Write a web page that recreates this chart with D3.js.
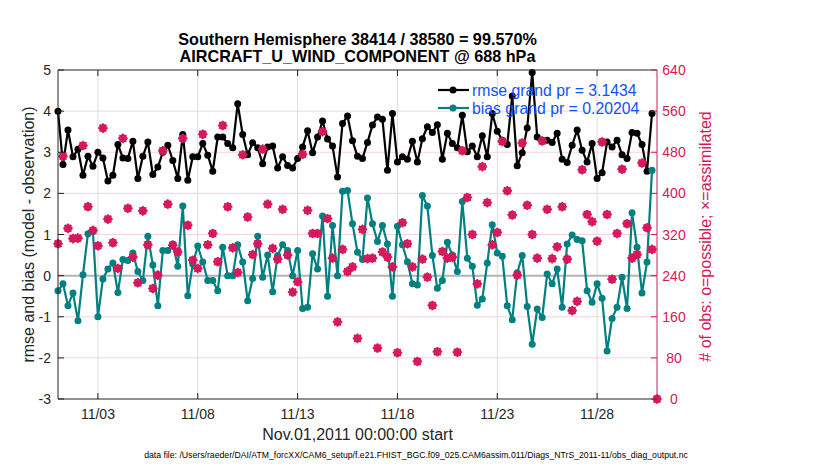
<!DOCTYPE html>
<html>
<head>
<meta charset="utf-8">
<script src="https://cdn.jsdelivr.net/npm/d3@7"></script>
<style>
  body { margin: 0; background: #fff; }
  svg text { font-family: "Liberation Sans", Arial, Helvetica, sans-serif; }
</style>
</head>
<body>
<svg id="chart" width="830" height="470"></svg>
<script>
// Values, one per 6-hour bin from Nov.01 00Z

const rmse = [
  4.00, 2.70, 3.54, 2.89, 3.07, 2.44, 2.90, 2.66, 3.00, 2.86, 2.30, 2.44, 3.19, 2.86, 2.85, 3.27, 2.36, 2.90, 3.25, 2.46,
  2.64, 3.00, 3.17, 2.80, 2.36, 3.43, 2.32, 2.89, 2.89, 3.21, 2.93, 2.54, 3.37, 3.37, 3.21, 3.11, 4.18, 3.43, 2.94, 3.23,
  3.11, 2.72, 3.13, 3.15, 2.62, 2.89, 2.68, 2.62, 2.85, 3.13, 3.52, 2.99, 3.37, 3.76, 3.32, 3.15, 2.40, 3.70, 3.88, 3.28,
  2.90, 2.85, 3.24, 3.66, 3.86, 3.80, 2.56, 3.94, 2.76, 2.89, 2.83, 3.27, 2.76, 3.33, 3.62, 3.48, 3.67, 2.83, 3.46, 3.21,
  3.11, 3.90, 3.01, 3.15, 2.89, 3.40, 2.89, 3.94, 3.51, 3.29, 3.19, 4.37, 2.67, 2.99, 3.59, 4.94, 3.37, 3.29, 3.29, 3.24,
  3.46, 2.83, 2.75, 3.17, 3.54, 3.05, 2.76, 3.21, 2.36, 2.50, 3.25, 3.13, 3.29, 2.94, 2.85, 3.48, 3.46, 3.19, 2.54, 3.94
];

const bias = [
  -0.37, -0.20, -0.73, -0.42, -1.10, 0.02, 1.02, 1.07, -1.00, -0.08, 0.16, 0.31, -0.41, 0.39, 0.37, 0.55, 0.10, -0.12, 0.96, 0.26,
  -0.73, 0.61, 0.61, 0.77, 0.23, 1.69, -0.49, 0.28, 0.72, 0.33, -0.12, -0.12, -0.37, 0.69, 0.00, 0.00, 0.75, 0.33, -0.61, -0.07,
  0.96, -0.04, 0.50, -0.39, 0.49, 0.75, 0.61, 0.00, 0.61, -0.80, -0.77, 0.53, 0.16, 1.45, -0.50, 1.22, 0.00, 2.05, 2.07, 1.26,
  0.57, 0.39, 1.89, 1.26, 0.83, 1.22, 0.77, -0.50, 1.20, 0.75, 0.34, -0.20, -0.23, 1.95, 1.69, 0.49, -0.31, -0.12, 0.81, 0.50,
  0.10, 1.80, 0.42, 0.23, -0.72, -0.57, 0.31, 1.24, 0.55, 0.47, -0.73, -1.07, 0.07, 0.49, -0.75, -1.67, -0.81, -1.02, 0.04, -0.20,
  0.16, -0.77, 0.77, 0.99, 0.88, 0.85, -0.37, -0.65, -0.20, -0.55, -1.83, -1.04, -0.77, -0.04, -0.80, 1.53, 0.69, -0.42, 0.33, 2.56
];

// number of observations possible (o) and assimilated (*); last bin is empty
const obsPossible = [
  302, 472, 332, 312, 313, 493, 374, 328, 298, 527, 350, 304, 254, 507, 371, 276, 226, 366, 300, 215,
  241, 483, 379, 299, 286, 507, 338, 270, 254, 515, 300, 322, 267, 532, 374, 294, 246, 475, 354, 281,
  302, 486, 379, 293, 272, 369, 280, 208, 228, 476, 367, 322, 322, 520, 351, 274, 150, 291, 248, 257,
  118, 330, 273, 274, 99, 286, 276, 257, 90, 343, 302, 257, 73, 272, 237, 182, 92, 287, 274, 276,
  91, 483, 392, 320, 224, 452, 382, 300, 324, 501, 405, 358, 241, 498, 377, 320, 274, 502, 369, 273,
  296, 374, 272, 172, 190, 446, 359, 345, 307, 500, 359, 233, 322, 447, 341, 274, 281, 459, 333, 291,
  0
];
const obsUsed = obsPossible.slice();

const leftTicks = [-3, -2, -1, 0, 1, 2, 3, 4, 5];
const rightTicks = [0, 80, 160, 240, 320, 400, 480, 560, 640];
const dateTicks = ['2011-11-03', '2011-11-08', '2011-11-13', '2011-11-18', '2011-11-23', '2011-11-28'];

const titleLines = ['Southern Hemisphere 38414 / 38580 = 99.570%', 'AIRCRAFT_U_WIND_COMPONENT @ 688 hPa'];
const legendLabels = ['rmse grand pr = 3.1434', 'bias grand pr = 0.20204'];
const dataFile = 'data file: /Users/raeder/DAI/ATM_forcXX/CAM6_setup/f.e21.FHIST_BGC.f09_025.CAM6assim.011/Diags_NTrS_2011-11/obs_diag_output.nc';

// colours
const obsColour = '#d6175b';
const biasColour = '#008080';
const legendText = '#1450ff';

const svg = d3.select('#chart');
const plotLeft = 58, plotRight = 657, plotTop = 70, plotBottom = 399;

const start = new Date(Date.UTC(2011, 10, 1));
const timeOf = i => new Date(start.getTime() + i * 6 * 3600 * 1000);

const x = d3.scaleUtc()
  .domain([start, new Date(Date.UTC(2011, 11, 1))])
  .range([plotLeft, plotRight]);
const y = d3.scaleLinear().domain([-3, 5]).range([plotBottom, plotTop]);
const yObs = d3.scaleLinear().domain([0, 640]).range([plotBottom, plotTop]);

const tickDates = dateTicks.map(s => new Date(s + 'T00:00:00Z'));

// grid lines
const grid = svg.append('g');
grid.selectAll('.vgrid')
  .data(tickDates)
  .enter()
  .append('line')
  .attr('x1', d => x(d)).attr('x2', d => x(d))
  .attr('y1', plotTop).attr('y2', plotBottom)
  .attr('stroke', '#dcdcdc')
  .attr('stroke-width', 1);
grid.selectAll('.hgrid')
  .data(rightTicks.slice(1, -1))
  .enter()
  .append('line')
  .attr('x1', plotLeft).attr('x2', plotRight)
  .attr('y1', d => yObs(d)).attr('y2', d => yObs(d))
  .attr('stroke', '#f5d3df')
  .attr('stroke-width', 1);

// zero line
svg.append('line')
  .attr('x1', plotLeft).attr('x2', plotRight)
  .attr('y1', y(0)).attr('y2', y(0))
  .attr('stroke', '#b4b4b4')
  .attr('stroke-width', 2);

// rmse and bias lines with markers
const line = d3.line()
  .x((d, i) => x(timeOf(i)))
  .y(d => y(d));

function drawSeries(values, colour) {
  const g = svg.append('g');
  g.append('path')
    .datum(values)
    .attr('d', line)
    .attr('fill', 'none')
    .attr('stroke', colour)
    .attr('stroke-width', 2.2)
    .attr('stroke-linejoin', 'round');
  g.selectAll('circle')
    .data(values)
    .enter()
    .append('circle')
    .attr('cx', (d, i) => x(timeOf(i)))
    .attr('cy', d => y(d))
    .attr('r', 3.5)
    .attr('fill', colour);
}
drawSeries(rmse, '#000');
drawSeries(bias, biasColour);

// observation counts: 'o' possible, '*' assimilated
const obsG = svg.append('g');
obsG.selectAll('circle')
  .data(obsPossible)
  .enter()
  .append('circle')
  .attr('cx', (d, i) => x(timeOf(i)))
  .attr('cy', d => yObs(d))
  .attr('r', 3.3)
  .attr('fill', 'none')
  .attr('stroke', obsColour)
  .attr('stroke-width', 1.7);

const star = r => {
  const a = r * 0.707;
  return `M${-r},0L${r},0M0,${-r}L0,${r}M${-a},${-a}L${a},${a}M${-a},${a}L${a},${-a}`;
};
obsG.selectAll('path')
  .data(obsUsed)
  .enter()
  .append('path')
  .attr('transform', (d, i) => `translate(${x(timeOf(i))},${yObs(d)})`)
  .attr('d', star(4.8))
  .attr('fill', 'none')
  .attr('stroke', obsColour)
  .attr('stroke-width', 1.7);

// axes box and ticks
const axes = svg.append('g');
axes.append('line').attr('x1', plotLeft).attr('x2', plotRight).attr('y1', plotTop).attr('y2', plotTop).attr('stroke', '#222');
axes.append('line').attr('x1', plotLeft).attr('x2', plotRight).attr('y1', plotBottom).attr('y2', plotBottom).attr('stroke', '#222');
axes.append('line').attr('x1', plotLeft).attr('x2', plotLeft).attr('y1', plotTop).attr('y2', plotBottom).attr('stroke', '#222');
axes.append('line').attr('x1', plotRight).attr('x2', plotRight).attr('y1', plotTop).attr('y2', plotBottom).attr('stroke', obsColour);

const tickLen = 6;
// bottom and top date ticks (pointing inward)
axes.selectAll('.xtick')
  .data(tickDates)
  .enter()
  .append('path')
  .attr('d', d => `M${x(d)},${plotBottom}v${-tickLen}M${x(d)},${plotTop}v${tickLen}`)
  .attr('stroke', '#222');
axes.selectAll('.xlabel')
  .data(tickDates)
  .enter()
  .append('text')
  .attr('x', d => x(d))
  .attr('y', 419)
  .attr('text-anchor', 'middle')
  .attr('font-size', 14)
  .attr('fill', '#262626')
  .text(d => d3.utcFormat('%m/%d')(d));

// left ticks
axes.selectAll('.ytick')
  .data(leftTicks)
  .enter()
  .append('path')
  .attr('d', d => `M${plotLeft},${y(d)}h${tickLen}`)
  .attr('stroke', '#222');
axes.selectAll('.ylabel')
  .data(leftTicks)
  .enter()
  .append('text')
  .attr('x', 51)
  .attr('y', d => y(d))
  .attr('dy', '0.36em')
  .attr('text-anchor', 'end')
  .attr('font-size', 14)
  .attr('fill', '#262626')
  .text(d => d);

// right ticks
axes.selectAll('.rtick')
  .data(rightTicks)
  .enter()
  .append('path')
  .attr('d', d => `M${plotRight},${yObs(d)}h${-tickLen}`)
  .attr('stroke', obsColour);
axes.selectAll('.rlabel')
  .data(rightTicks)
  .enter()
  .append('text')
  .attr('x', 674)
  .attr('y', d => yObs(d))
  .attr('dy', '0.36em')
  .attr('text-anchor', 'middle')
  .attr('font-size', 14)
  .attr('fill', obsColour)
  .text(d => d);

// titles and labels
svg.selectAll('.title')
  .data(titleLines)
  .enter()
  .append('text')
  .attr('x', (plotLeft + plotRight) / 2)
  .attr('y', (d, i) => 45 + i * 17)
  .attr('text-anchor', 'middle')
  .attr('font-size', 16.2)
  .attr('font-weight', 'bold')
  .attr('fill', '#000')
  .text(d => d);

svg.append('text')
  .attr('x', (plotLeft + plotRight) / 2)
  .attr('y', 440)
  .attr('text-anchor', 'middle')
  .attr('font-size', 16)
  .attr('fill', '#262626')
  .text('Nov.01,2011 00:00:00 start');

svg.append('text')
  .attr('transform', `translate(34,${(plotTop + plotBottom) / 2}) rotate(-90)`)
  .attr('text-anchor', 'middle')
  .attr('font-size', 16)
  .attr('fill', '#262626')
  .text('rmse and bias (model - observation)');

svg.append('text')
  .attr('transform', `translate(711,${(plotTop + plotBottom) / 2 + 2}) rotate(-90)`)
  .attr('text-anchor', 'middle')
  .attr('font-size', 16)
  .attr('fill', obsColour)
  .text('# of obs: o=possible; \u00d7=assimilated');

svg.append('text')
  .attr('x', 416)
  .attr('y', 458)
  .attr('text-anchor', 'middle')
  .attr('font-size', 8.7)
  .attr('fill', '#000')
  .text(dataFile);

// legend
const legend = svg.append('g');
const legendColours = ['#000', biasColour];
legendLabels.forEach((label, i) => {
  const ly = 90 + i * 18;
  legend.append('line')
    .attr('x1', 438).attr('x2', 469)
    .attr('y1', ly).attr('y2', ly)
    .attr('stroke', legendColours[i])
    .attr('stroke-width', 2.2);
  legend.append('circle')
    .attr('cx', 453).attr('cy', ly)
    .attr('r', 3.5)
    .attr('fill', legendColours[i]);
  legend.append('text')
    .attr('x', 472)
    .attr('y', ly + 6)
    .attr('font-size', 15.8)
    .attr('fill', legendText)
    .text(label);
});
</script>
</body>
</html>
